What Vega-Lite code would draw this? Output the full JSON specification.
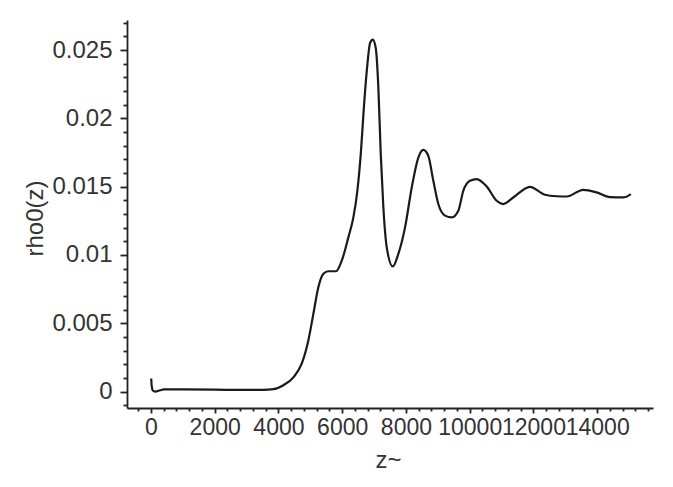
{
  "$schema": "https://vega.github.io/schema/vega-lite/v6.json",
  "width": 526,
  "height": 388,
  "autosize": "none",
  "padding": {"left": 127, "top": 20, "right": 20, "bottom": 79},
  "background": "white",
  "config": {
    "view": {"stroke": null},
    "font": "Liberation Sans",
    "axis": {
      "domainColor": "#222222",
      "domainWidth": 1.8,
      "tickColor": "#222222",
      "tickWidth": 1.8,
      "labelColor": "#333333",
      "labelFont": "Liberation Sans",
      "titleFont": "Liberation Sans",
      "titleFontWeight": "normal",
      "titleColor": "#333333",
      "grid": false,
      "labelOverlap": false,
      "labelFlush": false,
      "labelBound": false
    }
  },
  "data": {
    "values": [
      {"z": 10, "rho": 0.00096},
      {"z": 25, "rho": 0.0004},
      {"z": 60, "rho": 0.00008},
      {"z": 135, "rho": 0.0},
      {"z": 290, "rho": 0.0001},
      {"z": 400, "rho": 0.00016},
      {"z": 1000, "rho": 0.00016},
      {"z": 2000, "rho": 0.00014},
      {"z": 3000, "rho": 0.00012},
      {"z": 3500, "rho": 0.00013},
      {"z": 3843, "rho": 0.00018},
      {"z": 4157, "rho": 0.00047},
      {"z": 4470, "rho": 0.00104},
      {"z": 4734, "rho": 0.00206},
      {"z": 4940, "rho": 0.00376},
      {"z": 5097, "rho": 0.0057},
      {"z": 5254, "rho": 0.00765},
      {"z": 5411, "rho": 0.00862},
      {"z": 5567, "rho": 0.00881},
      {"z": 5809, "rho": 0.00881},
      {"z": 5987, "rho": 0.00959},
      {"z": 6194, "rho": 0.01129},
      {"z": 6351, "rho": 0.01275},
      {"z": 6476, "rho": 0.0147},
      {"z": 6583, "rho": 0.01738},
      {"z": 6687, "rho": 0.02102},
      {"z": 6790, "rho": 0.02394},
      {"z": 6875, "rho": 0.02552},
      {"z": 6959, "rho": 0.02577},
      {"z": 7053, "rho": 0.02515},
      {"z": 7135, "rho": 0.02224},
      {"z": 7210, "rho": 0.01738},
      {"z": 7292, "rho": 0.01348},
      {"z": 7398, "rho": 0.01056},
      {"z": 7586, "rho": 0.00916},
      {"z": 7762, "rho": 0.01008},
      {"z": 7972, "rho": 0.01202},
      {"z": 8182, "rho": 0.01494},
      {"z": 8389, "rho": 0.01713},
      {"z": 8545, "rho": 0.01769},
      {"z": 8702, "rho": 0.01725},
      {"z": 8859, "rho": 0.01543},
      {"z": 9016, "rho": 0.01373},
      {"z": 9226, "rho": 0.01288},
      {"z": 9436, "rho": 0.01275},
      {"z": 9643, "rho": 0.01324},
      {"z": 9799, "rho": 0.0147},
      {"z": 10009, "rho": 0.01543},
      {"z": 10219, "rho": 0.01555},
      {"z": 10533, "rho": 0.01501},
      {"z": 10846, "rho": 0.01397},
      {"z": 11053, "rho": 0.01373},
      {"z": 11367, "rho": 0.01421},
      {"z": 11890, "rho": 0.01499},
      {"z": 12360, "rho": 0.01441},
      {"z": 12727, "rho": 0.0143},
      {"z": 13041, "rho": 0.01428},
      {"z": 13561, "rho": 0.01477},
      {"z": 13981, "rho": 0.01458},
      {"z": 14398, "rho": 0.01423},
      {"z": 14815, "rho": 0.01421},
      {"z": 15056, "rho": 0.01446}
    ]
  },
  "mark": {"type": "line", "color": "#1a1a1a", "strokeWidth": 2.2, "interpolate": "monotone"},
  "encoding": {
    "x": {
      "field": "z",
      "type": "quantitative",
      "scale": {"domain": [-750, 15750], "nice": false, "zero": false},
      "axis": {
        "title": "z~",
        "titleX": 261,
        "titleY": 52,
        "titleBaseline": "middle",
        "titleFontSize": 24,
        "labelFontSize": 23,
        "values": [-400, 0, 400, 800, 1200, 1600, 2000, 2400, 2800, 3200, 3600, 4000, 4400, 4800, 5200, 5600, 6000, 6400, 6800, 7200, 7600, 8000, 8400, 8800, 9200, 9600, 10000, 10400, 10800, 11200, 11600, 12000, 12400, 12800, 13200, 13600, 14000, 14400, 14800, 15200, 15600],
        "labelExpr": "datum.value % 2000 == 0 ? format(datum.value, 'd') : ''",
        "tickSize": {"condition": {"test": "datum.value % 2000 == 0", "value": 5}, "value": 3},
        "labelPadding": 3
      }
    },
    "y": {
      "field": "rho",
      "type": "quantitative",
      "scale": {"domain": [-0.0012, 0.0272], "nice": false, "zero": false},
      "axis": {
        "title": "rho0(z)",
        "titleX": -92,
        "titleY": 198,
        "titleAngle": -90,
        "titleBaseline": "middle",
        "titleFontSize": 24,
        "labelFontSize": 24,
        "values": [-0.001, 0, 0.001, 0.002, 0.003, 0.004, 0.005, 0.006, 0.007, 0.008, 0.009, 0.01, 0.011, 0.012, 0.013, 0.014, 0.015, 0.016, 0.017, 0.018, 0.019, 0.02, 0.021, 0.022, 0.023, 0.024, 0.025, 0.026, 0.027],
        "labelExpr": "round(datum.value * 1000) % 5 == 0 ? format(datum.value, '~g') : ''",
        "tickSize": {"condition": {"test": "round(datum.value * 1000) % 5 == 0", "value": 7}, "value": 4},
        "labelPadding": 8
      }
    }
  }
}
